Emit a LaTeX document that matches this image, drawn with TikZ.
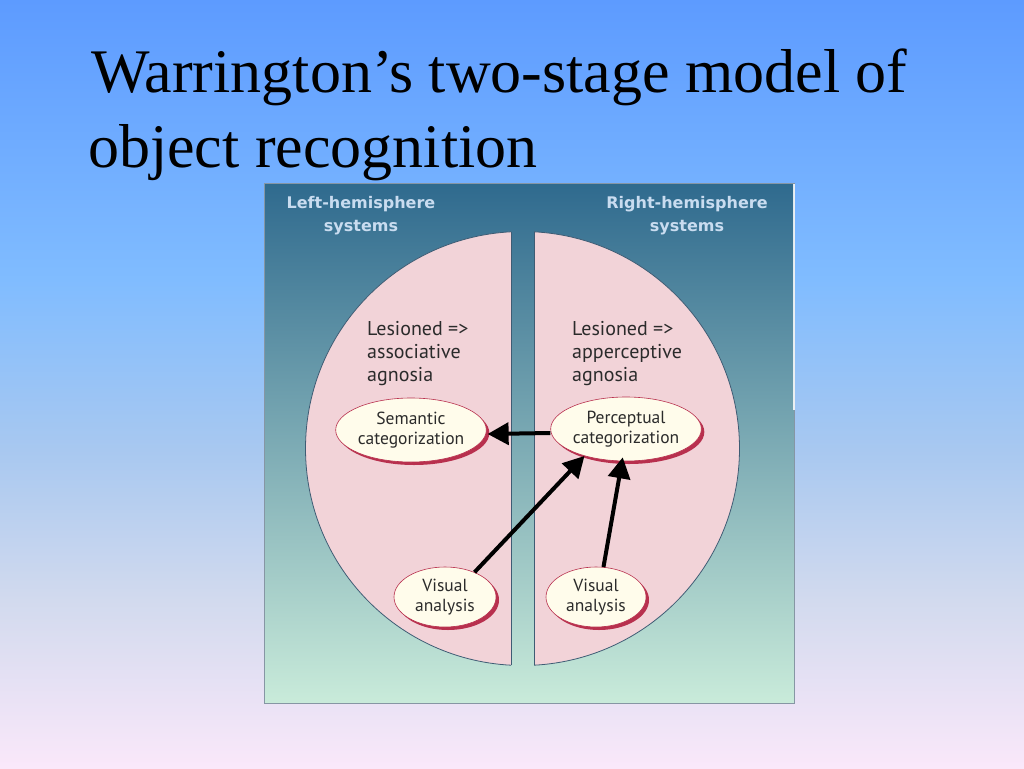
\documentclass[tikz,border=0pt]{standalone}
\usepackage{fontspec}
\setmainfont{Liberation Serif}
\newfontfamily\bodyfont{PT Sans}
\newfontfamily\headfont{DejaVu Sans}
\usetikzlibrary{shapes.geometric,arrows.meta,shadows}
\definecolor{bgA}{HTML}{5D9BFF}
\definecolor{bgB}{HTML}{80BCFF}
\definecolor{bgC}{HTML}{A8C8F0}
\definecolor{bgD}{HTML}{D2DAEE}
\definecolor{bgE}{HTML}{FAE8FA}
\pgfdeclareverticalshading{slidebg}{100bp}{color(0bp)=(bgE); color(25bp)=(bgE); color(35.9bp)=(bgD); color(45.7bp)=(bgC); color(56.8bp)=(bgB); color(75bp)=(bgA); color(100bp)=(bgA)}
\definecolor{ptop}{HTML}{2F6A8E}
\definecolor{pmid}{HTML}{6C99A9}
\definecolor{pbot}{HTML}{C9EBDA}
\definecolor{pborder}{HTML}{8696A4}
\definecolor{hemifill}{HTML}{F2D3D8}
\definecolor{hemiborder}{HTML}{3E5C74}
\definecolor{cream}{HTML}{FFFCEB}
\definecolor{crimson}{HTML}{B8304E}
\definecolor{bodytext}{HTML}{2B2B2B}
\definecolor{headtext}{HTML}{C9DCF0}
\begin{document}
\begin{tikzpicture}[x=1pt,y=-1pt,
  titletext/.style={anchor=base west, inner sep=0pt, font=\fontsize{62}{75}\selectfont, text=black},
  lestext/.style={anchor=base west, inner sep=0pt, align=left, text=bodytext, font=\bodyfont\fontsize{20}{23}\selectfont},
  headtext/.style={inner sep=0pt, align=center, text=headtext, font=\headfont\bfseries\fontsize{16}{23}\selectfont},
  oval/.style={ellipse, draw=crimson, line width=0.6pt, fill=cream, inner sep=0pt, align=center,
    text=bodytext, font=\bodyfont\fontsize{17.5}{20}\selectfont,
    drop shadow={shadow xshift=3pt, shadow yshift=-3pt, fill=crimson, opacity=1}},
  hemi/.style={fill=hemifill},
  hemiline/.style={draw=hemiborder, line width=0.8pt},
  bigarrow/.style={line width=4pt, -{Triangle[length=21pt,width=22pt]}}
]
\useasboundingbox (0,0) rectangle (1024,768);
\fill[shading=slidebg] (0,0) rectangle (1024,768);

% title
\node[titletext] (t1) at (91,92) {Warrington’s two-stage model of};
\node[titletext] (t2) at (88,167) {object recognition};

% panel
\filldraw[top color=ptop, middle color=pmid, bottom color=pbot, draw=pborder, line width=0.8pt] (264,183) rectangle (794,703);
\coordinate (hl1) at (794,184);
\coordinate (hl2) at (794,410);
\draw[white, line width=1.3pt, opacity=0.85] (hl1) -- (hl2);

% hemispheres
\begin{scope}
  \clip (250,220) rectangle (511,680);
  \fill[hemi] (522.5,448.5) circle[radius=217];
  \draw[hemiline] (522.5,448.5) circle[radius=217];
\end{scope}
\begin{scope}
  \clip (534,220) rectangle (780,680);
  \fill[hemi] (522.5,448.5) circle[radius=217];
  \draw[hemiline] (522.5,448.5) circle[radius=217];
\end{scope}
\draw[hemiline] (511,231.9) -- (511,665.1);
\draw[hemiline] (534,231.9) -- (534,665.1);

% headers
\node[headtext] (lh) at (361,216) {Left-hemisphere\\systems};
\node[headtext] (rh) at (687,216) {Right-hemisphere\\systems};

% lesion texts
\node[lestext] (ll) at (367,381) {Lesioned =>\\associative\\agnosia};
\node[lestext] (rl) at (572,381) {Lesioned =>\\apperceptive\\agnosia};

% ovals
\node[oval, minimum width=142pt, minimum height=64pt] (sem) at (411,430) {Semantic\\categorization};
\node[oval, minimum width=142pt, minimum height=64pt] (pc) at (626,429) {Perceptual\\categorization};
\node[oval, minimum width=102pt, minimum height=60pt] (vl) at (445,597) {Visual\\analysis};
\node[oval, minimum width=100pt, minimum height=60pt] (vr) at (596,597) {Visual\\analysis};

% arrows
\draw[bigarrow] ([yshift=-4pt]pc.west) -- ([yshift=-4pt,xshift=1pt]sem.east);
\draw[bigarrow] (vl.40) -- (pc.-147);
\draw[bigarrow, shorten >=-4pt] (vr.76) -- (pc.-97);
\end{tikzpicture}
\end{document}
